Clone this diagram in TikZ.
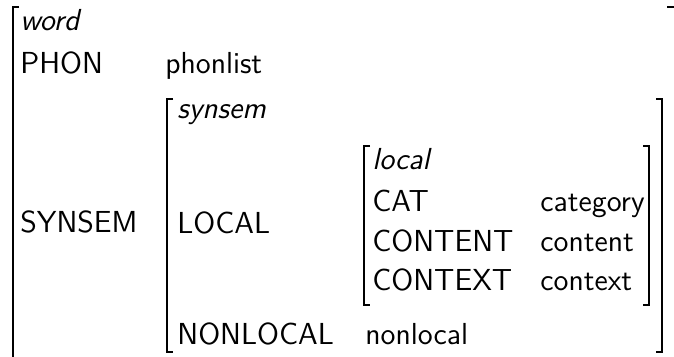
\documentclass[tikz,border=0pt]{standalone}
\usepackage{tikz}
\usetikzlibrary{positioning}
\tikzset{attr/.style={anchor=base west,inner sep=0pt,font=\fontsize{15.2}{17}\sffamily}}
\tikzset{type/.style={attr,font=\fontsize{15.2}{17}\sffamily\itshape}}
\tikzset{brack/.style={line width=1pt,line cap=butt}}

\begin{document}
\begin{tikzpicture}[x=0.5pt,y=-0.5pt]
                \useasboundingbox (0,0) rectangle (674,357);
                % outer matrix
                \node[type] (word)     at (20,31)   {word};
                \node[attr] (phon)     at (20,74)   {PHON};
                \node[attr] (phonval)  at (165,74)  {phonlist};
                \node[attr] (synsem)   at (20,233)  {SYNSEM};
                % synsem matrix
                \node[type] (ss)       at (177,119) {synsem};
                \node[attr] (loc)      at (177,234) {LOCAL};
                \node[attr] (nonloc)   at (177,344) {NONLOCAL};
                \node[attr] (nonlocval) at (365,344) {nonlocal};
                % local matrix
                \node[type] (lc)       at (372,170) {local};
                \node[attr] (cat)      at (372,212) {CAT};
                \node[attr] (catval)   at (540,212) {category};
                \node[attr] (cont)     at (372,252) {CONTENT};
                \node[attr] (contval)  at (540,252) {content};
                \node[attr] (ctx)      at (372,291) {CONTEXT};
                \node[attr] (ctxval)   at (540,291) {context};
                % brackets
                \draw[brack] (19,7) -- (13,7) -- (13,360) -- (19,360);
                \draw[brack] (667,7) -- (680,7) -- (680,360) -- (667,360);
                \draw[brack] (173,99) -- (167,99) -- (167,352) -- (173,352);
                \draw[brack] (656,99) -- (662,99) -- (662,352) -- (656,352);
                \draw[brack] (370,146) -- (364,146) -- (364,305) -- (370,305);
                \draw[brack] (643,146) -- (649,146) -- (649,305) -- (643,305);
            \end{tikzpicture}
\end{document}
